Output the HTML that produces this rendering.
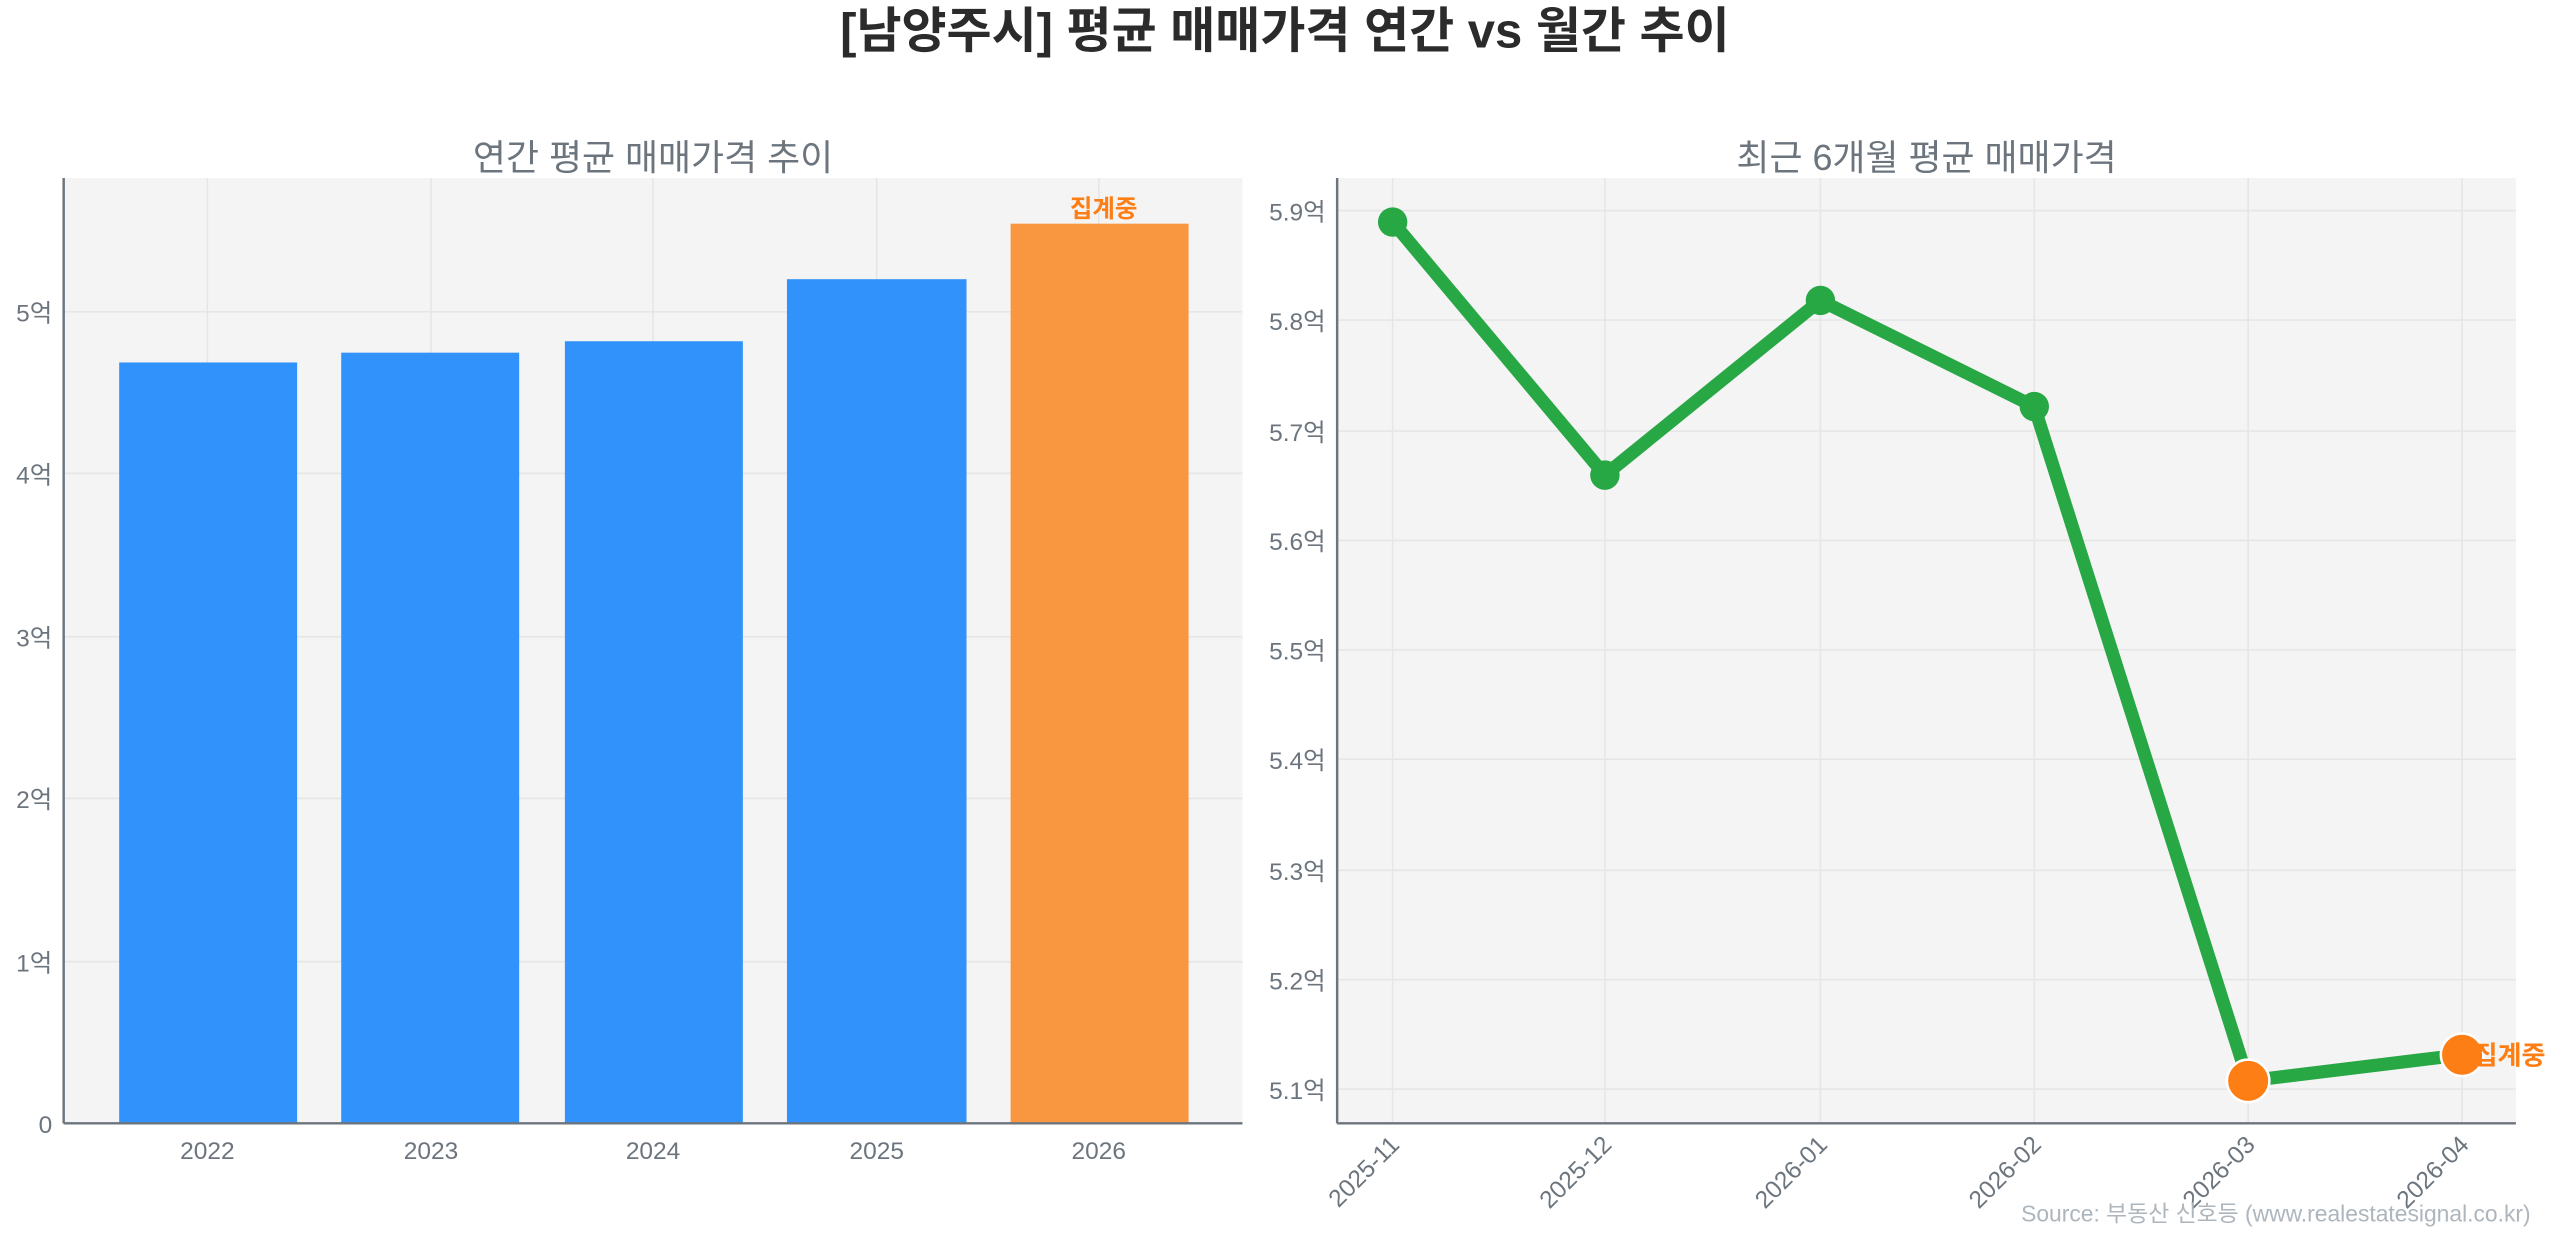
<!DOCTYPE html>
<html><head><meta charset="utf-8"><style>
body{margin:0;background:#fff}
svg{display:block;font-family:"Liberation Sans","Noto Sans CJK KR",sans-serif}
</style></head><body>
<svg width="2560" height="1235" viewBox="0 0 1568 756.4" preserveAspectRatio="none" xmlns="http://www.w3.org/2000/svg">
<text x="787" y="29" text-anchor="middle" font-size="30" font-weight="bold" fill="#2b2b2b">[남양주시] 평균 매매가격 연간 vs 월간 추이</text>
<!-- left -->
<text x="400" y="104" text-anchor="middle" font-size="22" fill="#6c757d">연간 평균 매매가격 추이</text>
<rect x="39" y="109" width="722" height="579" fill="#f4f4f4"/>
<g stroke="#e6e6e6" stroke-width="1">
<line x1="127" y1="109" x2="127" y2="688"/><line x1="264" y1="109" x2="264" y2="688"/><line x1="400" y1="109" x2="400" y2="688"/><line x1="537" y1="109" x2="537" y2="688"/><line x1="673" y1="109" x2="673" y2="688"/>
<line x1="39" y1="191" x2="761" y2="191"/><line x1="39" y1="290" x2="761" y2="290"/><line x1="39" y1="390" x2="761" y2="390"/><line x1="39" y1="489" x2="761" y2="489"/><line x1="39" y1="589" x2="761" y2="589"/>
</g>
<rect x="73" y="222" width="109" height="466" fill="#3092FA"/>
<rect x="209" y="216" width="109" height="472" fill="#3092FA"/>
<rect x="346" y="209" width="109" height="479" fill="#3092FA"/>
<rect x="482" y="171" width="110" height="517" fill="#3092FA"/>
<rect x="619" y="137" width="109" height="551" fill="#F99740"/>
<text x="676" y="133" text-anchor="middle" font-size="15" font-weight="bold" fill="#FD7E14">집계중</text>
<line x1="39" y1="109" x2="39" y2="688" stroke="#6c757d" stroke-width="1.5"/>
<line x1="39" y1="688" x2="761" y2="688" stroke="#6c757d" stroke-width="1.5"/>
<g font-size="15" fill="#6c757d" text-anchor="end">
<text x="32" y="694">0</text><text x="32" y="595">1억</text><text x="32" y="495">2억</text><text x="32" y="396">3억</text><text x="32" y="296">4억</text><text x="32" y="197">5억</text>
</g>
<g font-size="15" fill="#6c757d" text-anchor="middle">
<text x="127" y="710">2022</text><text x="264" y="710">2023</text><text x="400" y="710">2024</text><text x="537" y="710">2025</text><text x="673" y="710">2026</text>
</g>
<!-- right -->
<text x="1180" y="104" text-anchor="middle" font-size="22" fill="#6c757d">최근 6개월 평균 매매가격</text>
<rect x="819" y="109" width="722" height="579" fill="#f4f4f4"/>
<g stroke="#e6e6e6" stroke-width="1">
<line x1="853" y1="109" x2="853" y2="688"/><line x1="983" y1="109" x2="983" y2="688"/><line x1="1115" y1="109" x2="1115" y2="688"/><line x1="1246" y1="109" x2="1246" y2="688"/><line x1="1377" y1="109" x2="1377" y2="688"/><line x1="1508" y1="109" x2="1508" y2="688"/>
<line x1="819" y1="129" x2="1541" y2="129"/><line x1="819" y1="196" x2="1541" y2="196"/><line x1="819" y1="264" x2="1541" y2="264"/><line x1="819" y1="331" x2="1541" y2="331"/><line x1="819" y1="398" x2="1541" y2="398"/><line x1="819" y1="465" x2="1541" y2="465"/><line x1="819" y1="533" x2="1541" y2="533"/><line x1="819" y1="600" x2="1541" y2="600"/><line x1="819" y1="667" x2="1541" y2="667"/>
</g>
<polyline points="853,136 983,291 1115,184 1246,249 1377,662 1508,646" fill="none" stroke="#28A745" stroke-width="8" stroke-linejoin="round"/>
<circle cx="853" cy="136" r="9" fill="#28A745"/><circle cx="983" cy="291" r="9" fill="#28A745"/><circle cx="1115" cy="184" r="9" fill="#28A745"/><circle cx="1246" cy="249" r="9" fill="#28A745"/>
<circle cx="1377" cy="662" r="13" fill="#FD7E14" stroke="#fff" stroke-width="1.5"/>
<circle cx="1508" cy="646" r="13" fill="#FD7E14" stroke="#fff" stroke-width="1.5"/>
<text x="1515" y="652" font-size="16" font-weight="bold" fill="#FD7E14">집계중</text>
<line x1="819" y1="109" x2="819" y2="688" stroke="#6c757d" stroke-width="1.5"/>
<line x1="819" y1="688" x2="1541" y2="688" stroke="#6c757d" stroke-width="1.5"/>
<g font-size="15" fill="#6c757d" text-anchor="end">
<text x="812" y="135">5.9억</text><text x="812" y="202">5.8억</text><text x="812" y="270">5.7억</text><text x="812" y="337">5.6억</text><text x="812" y="404">5.5억</text><text x="812" y="471">5.4억</text><text x="812" y="539">5.3억</text><text x="812" y="606">5.2억</text><text x="812" y="673">5.1억</text>
</g>
<g font-size="15" fill="#6c757d" text-anchor="end">
<text transform="translate(858,702) rotate(-45)">2025-11</text>
<text transform="translate(988,702) rotate(-45)">2025-12</text>
<text transform="translate(1120,702) rotate(-45)">2026-01</text>
<text transform="translate(1251,702) rotate(-45)">2026-02</text>
<text transform="translate(1382,702) rotate(-45)">2026-03</text>
<text transform="translate(1513,702) rotate(-45)">2026-04</text>
</g>
<text x="1550" y="748" text-anchor="end" font-size="14" fill="#adb5bd">Source: 부동산 신호등 (www.realestatesignal.co.kr)</text>
</svg>
</body></html>
